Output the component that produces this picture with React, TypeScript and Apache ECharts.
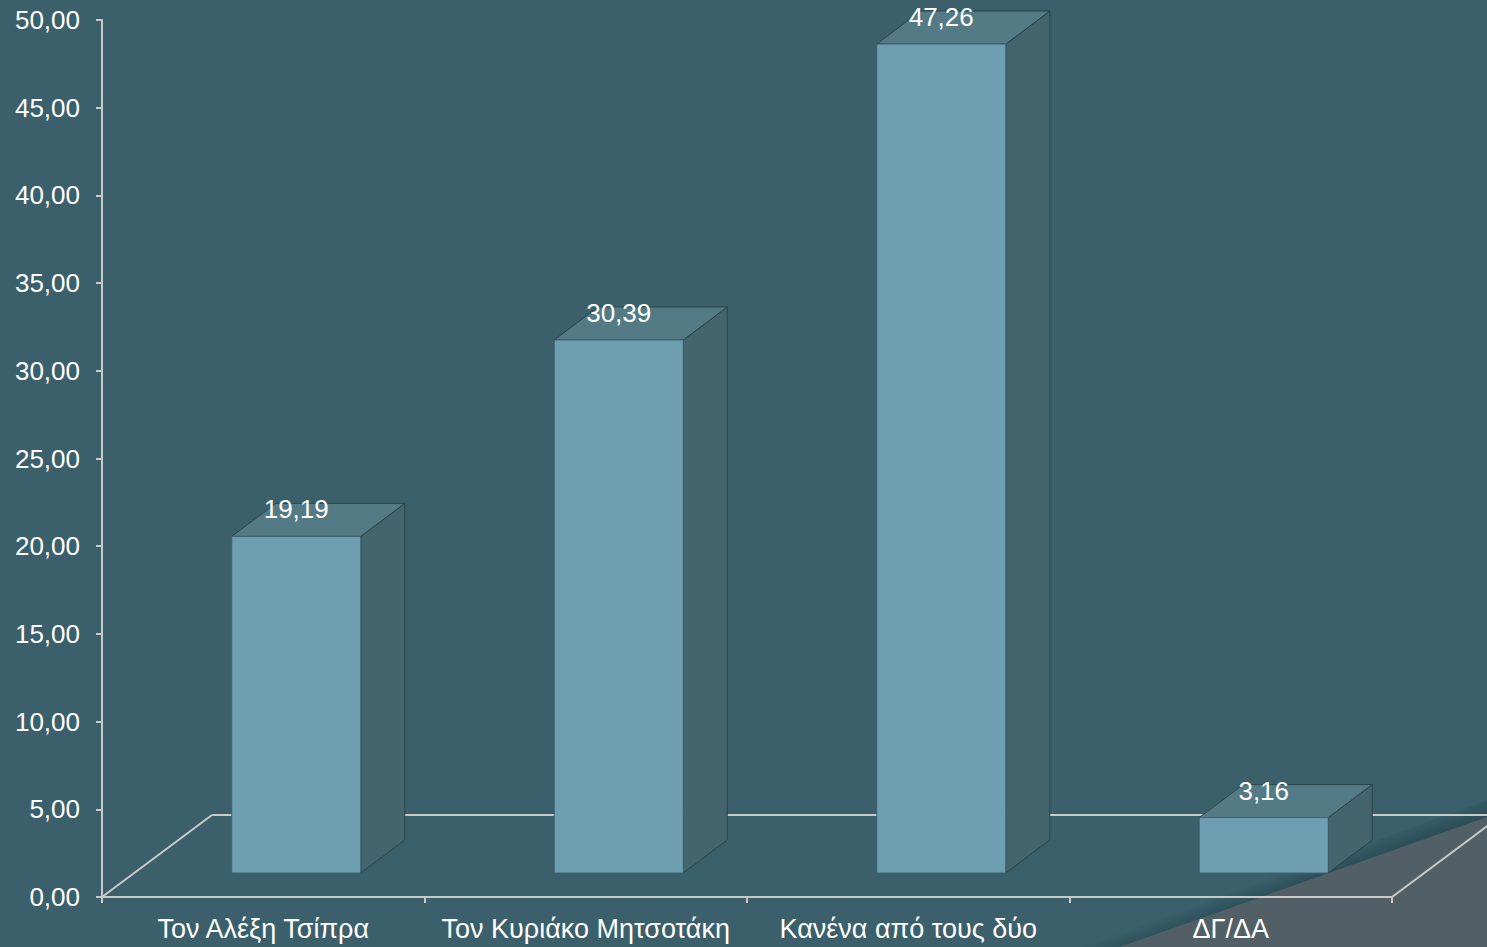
import React, { useEffect, useRef } from "react";
import * as echarts from "echarts";

const categories = ["Τον Αλέξη Τσίπρα", "Τον Κυριάκο Μητσοτάκη", "Κανένα από τους δύο", "ΔΓ/ΔΑ"];
const values = [19.19, 30.39, 47.26, 3.16];
const yMin = 0;
const yMax = 50;
const yInterval = 5;

const W = 1487;
const H = 947;
const GRID = { left: 102, right: 95, top: 20, bottom: 50 };
const FLOOR_DX = 110;
const FLOOR_DY = -82;
const BAR_SHIFT_X = 33;
const BAR_SHIFT_Y = -24;
const DEPTH_DX = 44;
const DEPTH_DY = -33;

const fmt = (v: number) => v.toFixed(2).replace(".", ",");
const FONT = "'Liberation Sans', Arial, sans-serif";

export default function App() {
  const ref = useRef<HTMLDivElement>(null);
  useEffect(() => {
    if (!ref.current) return;
    const chart = echarts.init(ref.current, undefined, { renderer: "svg" });
    const x0 = GRID.left;
    const x1 = W - GRID.right;
    const y0 = H - GRID.bottom;
    const lineStyle = { stroke: "#c9c9c9", lineWidth: 2 };
    chart.setOption({
      animation: false,
      backgroundColor: "#3b606b",
      grid: { left: GRID.left, right: GRID.right, top: GRID.top, bottom: GRID.bottom, containLabel: false },
      graphic: [
        {
          type: "polygon",
          z: 0,
          silent: true,
          shape: { points: [[1080, 947], [1487, 800], [1487, 818], [1120, 947]] },
          style: {
            fill: new echarts.graphic.LinearGradient(1297, 866, 1303, 882, [
              { offset: 0, color: "rgba(40,75,85,0)" },
              { offset: 1, color: "rgba(38,72,82,0.7)" },
            ], true),
          },
        },
        {
          type: "polygon",
          z: 0,
          silent: true,
          shape: { points: [[1120, 947], [1487, 817], [1487, 947]] },
          style: { fill: "#525f66" },
        },
        { type: "line", z: 1, silent: true, shape: { x1: x0, y1: y0, x2: x0 + FLOOR_DX, y2: y0 + FLOOR_DY }, style: lineStyle },
        { type: "line", z: 1, silent: true, shape: { x1: x0 + FLOOR_DX, y1: y0 + FLOOR_DY, x2: x1 + FLOOR_DX, y2: y0 + FLOOR_DY }, style: lineStyle },
        { type: "line", z: 1, silent: true, shape: { x1: x1, y1: y0, x2: x1 + FLOOR_DX, y2: y0 + FLOOR_DY }, style: lineStyle },
      ],
      xAxis: {
        type: "category",
        data: categories,
        boundaryGap: true,
        axisLine: { show: true, lineStyle: { color: "#c9c9c9", width: 2 } },
        axisTick: { show: true, length: 6, lineStyle: { color: "#c9c9c9", width: 2 } },
        axisLabel: { color: "#ffffff", fontSize: 27, fontFamily: FONT, margin: 18, interval: 0 },
        splitLine: { show: false },
      },
      yAxis: {
        type: "value",
        min: yMin,
        max: yMax,
        interval: yInterval,
        axisLine: { show: true, lineStyle: { color: "#c9c9c9", width: 2 } },
        axisTick: { show: true, length: 6, lineStyle: { color: "#c9c9c9", width: 2 } },
        axisLabel: {
          color: "#ffffff",
          fontSize: 26,
          fontFamily: FONT,
          margin: 22,
          padding: [4, 0, 0, 0],
          formatter: (v: number) => fmt(v),
        },
        splitLine: { show: false },
      },
      series: [
        {
          type: "custom",
          z: 3,
          data: values.map((v, i) => [i, v]),
          renderItem: (params: any, api: any) => {
            const idx = api.value(0);
            const v = api.value(1);
            const top = api.coord([idx, v]);
            const base = api.coord([idx, 0]);
            const bw = api.size([1, 0])[0] * 0.4;
            const cx = top[0] + BAR_SHIFT_X;
            const l = cx - bw / 2;
            const r = cx + bw / 2;
            const t = top[1] + BAR_SHIFT_Y;
            const b = base[1] + BAR_SHIFT_Y;
            const edge = "rgba(40,65,72,0.9)";
            return {
              type: "group",
              children: [
                {
                  type: "polygon",
                  shape: { points: [[r, t], [r + DEPTH_DX, t + DEPTH_DY], [r + DEPTH_DX, b + DEPTH_DY], [r, b]] },
                  style: { fill: "#44646e", stroke: edge, lineWidth: 1 },
                },
                {
                  type: "polygon",
                  shape: { points: [[l, t], [l + DEPTH_DX, t + DEPTH_DY], [r + DEPTH_DX, t + DEPTH_DY], [r, t]] },
                  style: { fill: "#547a85", stroke: edge, lineWidth: 1 },
                },
                {
                  type: "rect",
                  shape: { x: l, y: t, width: bw, height: b - t },
                  style: { fill: "#6e9fb1", stroke: "rgba(60,95,108,0.9)", lineWidth: 1 },
                },
                {
                  type: "text",
                  style: {
                    text: fmt(v),
                    x: cx,
                    y: t + DEPTH_DY + 6,
                    align: "center",
                    verticalAlign: "middle",
                    fill: "#ffffff",
                    fontSize: 26,
                    fontFamily: FONT,
                  },
                },
              ],
            };
          },
        },
      ],
    });
    return () => chart.dispose();
  }, []);
  return <div ref={ref} style={{ position: "fixed", left: 0, top: 0, width: W, height: H }} />;
}
